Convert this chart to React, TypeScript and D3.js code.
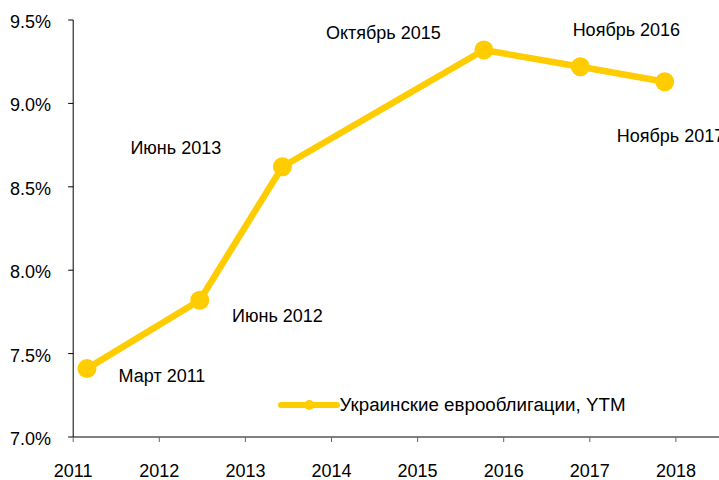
import React from "react";
import * as d3 from "d3";

const pointLabels = ["Март 2011", "Июнь 2012", "Июнь 2013", "Октябрь 2015", "Ноябрь 2016", "Ноябрь 2017"];
const pointDates = [2011.16, 2012.47, 2013.43, 2015.77, 2016.89, 2017.87];
const ytmValues = [7.41, 7.82, 8.62, 9.32, 9.22, 9.13];
const yearTicks = [2011, 2012, 2013, 2014, 2015, 2016, 2017, 2018];
const yTicks = [7.0, 7.5, 8.0, 8.5, 9.0, 9.5];
const seriesName = "Украинские еврооблигации, YTM";

// label placement offsets (layout only)
const labelOffsets: [number, number][] = [
  [31.6, 13.4],
  [32.3, 22],
  [-152, -13],
  [-158, -11.4],
  [-7.7, -30.6],
  [-48, 60.7],
];

const W = 719;
const H = 480;
const COLOR = "#FFCC00";
const FONT = "'Liberation Sans', Arial, sans-serif";

export default function App() {
  const x = d3.scaleLinear().domain([2011, 2019]).range([73.2, 73.2 + 8 * 86.1]);
  const y = d3.scaleLinear().domain([7.0, 9.5]).range([437, 20]);
  const pts = pointDates.map((d, i) => ({ d, v: ytmValues[i], label: pointLabels[i] }));
  const line = d3
    .line<{ d: number; v: number }>()
    .x((p) => x(p.d))
    .y((p) => y(p.v));

  return (
    <svg
      width={W}
      height={H}
      style={{ position: "absolute", left: 0, top: 0, background: "#fff" }}
      fontFamily={FONT}
    >
      {/* axes */}
      <line x1={x(2011)} x2={x(2011)} y1={y(9.5)} y2={y(7.0)} stroke="#000" strokeWidth={1} />
      <line x1={x(2011)} x2={W} y1={y(7.0)} y2={y(7.0)} stroke="#000" strokeWidth={1} />
      {yTicks.map((t) => (
        <g key={t}>
          <line x1={x(2011) - 5} x2={x(2011)} y1={y(t)} y2={y(t)} stroke="#000" />
          <text x={51} y={y(t) + 8} textAnchor="end" fontSize={18} fill="#000">
            {d3.format(".1f")(t) + "%"}
          </text>
        </g>
      ))}
      {yearTicks.map((t) => (
        <g key={t}>
          <line x1={x(t)} x2={x(t)} y1={y(7.0)} y2={y(7.0) + 5} stroke="#666" />
          <text x={x(t)} y={477} textAnchor="middle" fontSize={18} fill="#000">
            {t}
          </text>
        </g>
      ))}
      {/* series */}
      <path d={line(pts) || ""} fill="none" stroke={COLOR} strokeWidth={6.5} strokeLinejoin="round" />
      {pts.map((p, i) => (
        <circle key={i} cx={x(p.d)} cy={y(p.v)} r={9.5} fill={COLOR} />
      ))}
      {pts.map((p, i) => (
        <text
          key={"l" + i}
          x={x(p.d) + labelOffsets[i][0]}
          y={y(p.v) + labelOffsets[i][1]}
          fontSize={18}
          fill="#000"
        >
          {p.label}
        </text>
      ))}
      {/* legend */}
      <line x1={281} x2={337} y1={405} y2={405} stroke={COLOR} strokeWidth={6} strokeLinecap="round" />
      <circle cx={309.3} cy={405} r={5} fill={COLOR} />
      <text x={339.5} y={411} fontSize={18} fill="#000" textLength={286} lengthAdjust="spacingAndGlyphs">
        {seriesName}
      </text>
    </svg>
  );
}
